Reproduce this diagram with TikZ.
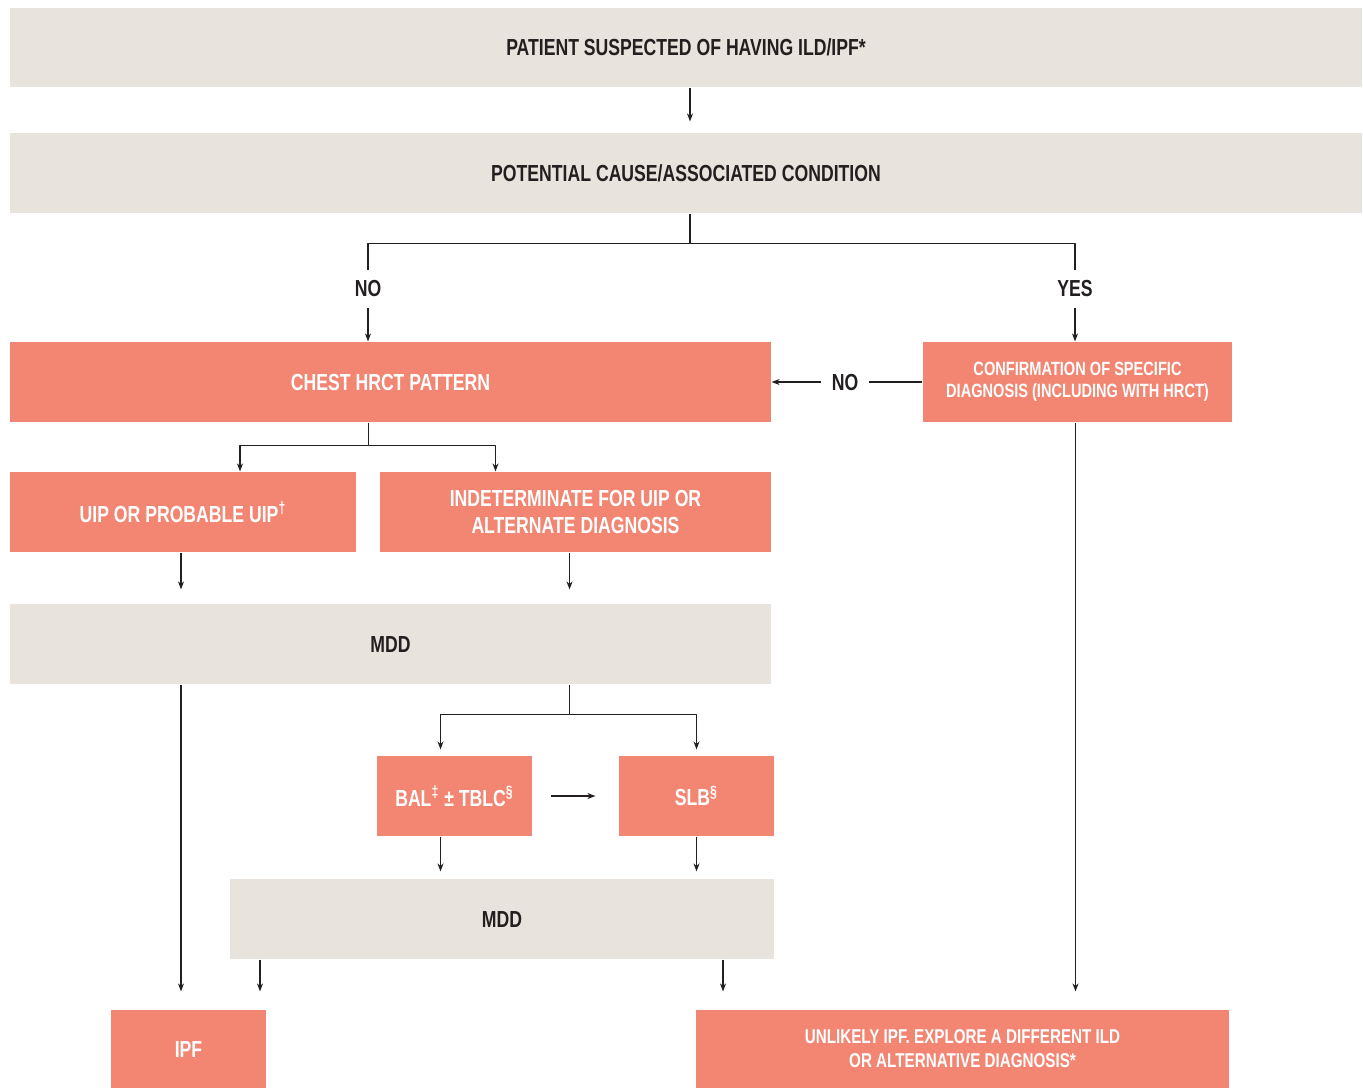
\documentclass[tikz,border=0pt]{standalone}
\usepackage{fontspec}
\setmainfont{Liberation Sans}[FakeStretch=0.76]
\usetikzlibrary{arrows.meta}
\definecolor{boxgrey}{HTML}{E8E3DC}
\definecolor{boxred}{HTML}{F28672}
\definecolor{inkdark}{HTML}{231F20}
\tikzset{
  greybox/.style={fill=boxgrey, text=inkdark, minimum height=40pt, inner sep=0pt, align=center, font=\fontsize{11.6}{15}\selectfont\bfseries},
  redbox/.style={fill=boxred, text=white, minimum height=40pt, inner sep=0pt, align=center, font=\fontsize{11.6}{15}\selectfont\bfseries},
  lbl/.style={text=inkdark, inner sep=5pt, font=\fontsize{11.6}{13}\selectfont\bfseries},
  arr/.style={-{Stealth[length=4pt,width=3pt]}},
}
\begin{document}
\begin{tikzpicture}[x=0.5pt, y=-0.5pt, line width=0.6pt, draw=inkdark, line join=round]
\useasboundingbox (0,0) rectangle (1363,1089);

\node[greybox, minimum width=676pt, minimum height=39.5pt] (patient) at (686,47.5) {PATIENT SUSPECTED OF HAVING ILD/IPF*};
\node[greybox, minimum width=676pt] (cause) at (686,173) {POTENTIAL CAUSE/ASSOCIATED CONDITION};

\node[redbox, minimum width=380.5pt] (chest) at (390.5,382) {CHEST HRCT PATTERN};
\node[redbox, minimum width=154.5pt, font=\fontsize{9.6}{11.2}\selectfont\bfseries] (confirm) at (1077.5,382) {CONFIRMATION OF SPECIFIC\\DIAGNOSIS (INCLUDING WITH HRCT)};

\node[redbox, minimum width=173pt] (uip) at (183,512) {UIP OR PROBABLE UIP\textsuperscript{†}};
\node[redbox, minimum width=195.5pt, font=\fontsize{11.6}{13.5}\selectfont\bfseries] (indet) at (575.5,512) {INDETERMINATE FOR UIP OR\\ALTERNATE DIAGNOSIS};

\node[greybox, minimum width=380.5pt] (mdda) at (390.5,644) {MDD};

\node[redbox, minimum width=77.5pt] (bal) at (454.5,796) {BAL\textsuperscript{‡} ± TBLC\textsuperscript{§}};
\node[redbox, minimum width=77.5pt] (slb) at (696.5,796) {SLB\textsuperscript{§}};

\node[greybox, minimum width=272pt] (mddb) at (502,919) {MDD};

\node[redbox, minimum width=77.5pt, minimum height=39pt] (ipf) at (188.5,1049) {IPF};
\node[redbox, minimum width=266.5pt, minimum height=39pt, font=\fontsize{10}{12}\selectfont\bfseries] (unlikely) at (962.5,1049) {UNLIKELY IPF. EXPLORE A DIFFERENT ILD\\OR ALTERNATIVE DIAGNOSIS*};

\node[lbl] (noa) at (368,289) {NO};
\node[lbl] (yes) at (1075,289) {YES};
\node[lbl] (nob) at (845,382) {NO};

% top part
\draw[arr, shorten >=5.5pt] ([xshift=2pt]patient.south) -- ([xshift=2pt]cause.north);
\draw ([xshift=2pt]cause.south) -- ++(0,30) coordinate (split) -| (noa.north);
\draw (split) -| (yes.north);
\draw[arr] (noa.south) -- (noa.south |- chest.north);
\draw[arr] (yes.south) -- (yes.south |- confirm.north);
\draw (confirm.west) -- (nob.east);
\draw[arr] (nob.west) -- (chest.east);

% HRCT pattern
\draw[arr] ([xshift=-11pt]chest.south) -- ++(0,23) coordinate (hsplit) -| ([xshift=28.5pt]uip.north);
\draw[arr] (hsplit) -| ([xshift=-40pt]indet.north);
\draw[arr, shorten >=7pt] ([xshift=-1pt]uip.south) -- ([xshift=-1pt]uip.south |- mdda.north);
\draw[arr, shorten >=7pt] ([xshift=-3pt]indet.south) -- ([xshift=-3pt]indet.south |- mdda.north);

% after first MDD
\draw[arr, shorten >=9pt] ([xshift=-1pt]uip.south |- mdda.south) -- ([xshift=-1pt]uip.south |- ipf.north);
\draw[arr, shorten >=3pt] ([xshift=-3pt]indet.south |- mdda.south) -- ++(0,30) coordinate (msplit) -| ([xshift=-7pt]bal.north);
\draw[arr, shorten >=3pt] (msplit) -| (slb.north);
\draw[arr, shorten <=9pt, shorten >=11.5pt] (bal.east) -- (slb.west);
\draw[arr, shorten >=3.5pt] ([xshift=-7pt]bal.south) -- ([xshift=-7pt]bal.south |- mddb.north);
\draw[arr, shorten >=3.5pt] (slb.south) -- (slb.south |- mddb.north);

% outcomes
\draw[arr, shorten >=9pt] ([xshift=-121pt]mddb.south) -- ([xshift=-121pt]mddb.south |- ipf.north);
\draw[arr, shorten >=9pt] ([xshift=110.5pt]mddb.south) -- ([xshift=110.5pt]mddb.south |- unlikely.north);
\draw[arr, shorten >=9pt] ([xshift=-1pt]confirm.south) -- ([xshift=-1pt]confirm.south |- unlikely.north);
\end{tikzpicture}
\end{document}
